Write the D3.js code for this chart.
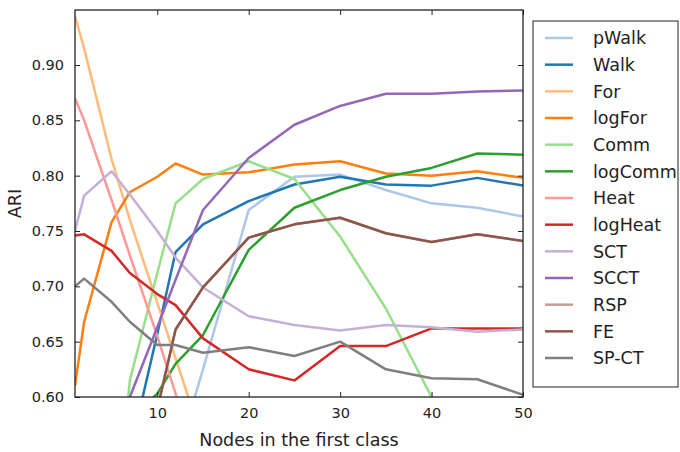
<!DOCTYPE html>
<html>
<head>
<meta charset="utf-8">
<script src="https://cdn.jsdelivr.net/npm/d3@7"></script>
<style>
  html, body { margin: 0; padding: 0; background: #fff; }
  svg { display: block; font-family: "DejaVu Sans", sans-serif; }
</style>
</head>
<body>
<svg id="chart" width="680" height="452"></svg>
<script>
// Number of nodes in the first class (x positions of every series)
const nodes = [1, 2, 5, 7, 10, 12, 15, 20, 25, 30, 35, 40, 45, 50];

// ARI per method, one value per entry of `nodes`
const pWalk   = [0.40, 0.42, 0.45, 0.47, 0.50, 0.542, 0.625, 0.769, 0.799, 0.801, 0.787, 0.775, 0.771, 0.763];
const walk    = [0.45, 0.47, 0.50, 0.55, 0.657, 0.731, 0.756, 0.777, 0.792, 0.799, 0.792, 0.791, 0.798, 0.791];
const forM    = [0.944, 0.915, 0.815, 0.760, 0.685, 0.635, 0.56, 0.50, 0.46, 0.44, 0.42, 0.41, 0.40, 0.39];
const logFor  = [0.610, 0.668, 0.758, 0.785, 0.799, 0.811, 0.801, 0.803, 0.810, 0.813, 0.802, 0.800, 0.804, 0.798];
const comm    = [0.35, 0.38, 0.45, 0.615, 0.712, 0.775, 0.797, 0.813, 0.797, 0.745, 0.680, 0.600, 0.52, 0.45];
const logComm = [0.45, 0.48, 0.53, 0.58, 0.603, 0.630, 0.656, 0.733, 0.771, 0.787, 0.799, 0.807, 0.820, 0.819];
const heat    = [0.870, 0.850, 0.778, 0.728, 0.655, 0.603, 0.53, 0.48, 0.45, 0.43, 0.42, 0.41, 0.40, 0.39];
const logHeat = [0.746, 0.747, 0.732, 0.712, 0.693, 0.683, 0.653, 0.625, 0.615, 0.646, 0.646, 0.662, 0.662, 0.662];
const sct     = [0.750, 0.782, 0.804, 0.783, 0.750, 0.726, 0.699, 0.673, 0.665, 0.660, 0.665, 0.663, 0.659, 0.661];
const scct    = [0.45, 0.48, 0.55, 0.600, 0.663, 0.706, 0.769, 0.816, 0.846, 0.863, 0.874, 0.874, 0.876, 0.877];
const rsp     = [0.45, 0.47, 0.50, 0.54, 0.589, 0.661, 0.699, 0.744, 0.756, 0.762, 0.748, 0.740, 0.747, 0.741];
const fe      = [0.45, 0.47, 0.50, 0.54, 0.589, 0.661, 0.699, 0.744, 0.756, 0.762, 0.748, 0.740, 0.747, 0.741];
const spct    = [0.700, 0.707, 0.686, 0.668, 0.647, 0.647, 0.640, 0.645, 0.637, 0.650, 0.625, 0.617, 0.616, 0.602];

const methodNames = ["pWalk", "Walk", "For", "logFor", "Comm", "logComm", "Heat", "logHeat", "SCT", "SCCT", "RSP", "FE", "SP-CT"];
const methodValues = [pWalk, walk, forM, logFor, comm, logComm, heat, logHeat, sct, scct, rsp, fe, spct];
const methodColors = ["#aec7e8", "#1f77b4", "#ffbb78", "#ff7f0e", "#98df8a", "#2ca02c",
                      "#ff9896", "#d62728", "#c5b0d5", "#9467bd", "#c49c94", "#8c564b", "#7f7f7f"];

const xTicks = [10, 20, 30, 40, 50];
const yTicks = [0.60, 0.65, 0.70, 0.75, 0.80, 0.85, 0.90];

const svg = d3.select("#chart");
const plot = { left: 75, top: 10, right: 523, bottom: 397 };

const x = d3.scaleLinear().domain([1, 50]).range([plot.left, plot.right]);
const y = d3.scaleLinear().domain([0.6, 0.9497]).range([plot.bottom, plot.top]);

svg.append("defs").append("clipPath").attr("id", "plot-clip")
  .append("rect")
  .attr("x", plot.left).attr("y", plot.top)
  .attr("width", plot.right - plot.left).attr("height", plot.bottom - plot.top);

// Series lines, drawn in legend order so later methods sit on top
const line = d3.line().x(d => x(d[0])).y(d => y(d[1]));
const lines = svg.append("g").attr("clip-path", "url(#plot-clip)");
methodValues.forEach((vals, i) => {
  lines.append("path")
    .datum(nodes.map((n, j) => [n, vals[j]]))
    .attr("d", line)
    .attr("fill", "none")
    .attr("stroke", methodColors[i])
    .attr("stroke-width", 2.5)
    .attr("stroke-linejoin", "round");
});

// Axes with inward ticks on all four sides
const tickLen = 5;
const axisStyle = g => {
  g.select(".domain").remove();
  g.selectAll(".tick line").attr("stroke", "#222").attr("stroke-width", 1);
  g.selectAll(".tick text").attr("fill", "#222").style("font-size", "14.5px")
    .style("font-family", "'DejaVu Sans', sans-serif");
};

svg.append("g").attr("transform", `translate(0,${plot.bottom})`)
  .call(d3.axisBottom(x).tickValues(xTicks).tickSize(-tickLen).tickPadding(11).tickFormat(d3.format("d")))
  .call(axisStyle);
svg.append("g").attr("transform", `translate(0,${plot.top})`)
  .call(d3.axisTop(x).tickValues(xTicks).tickSize(-tickLen).tickFormat(""))
  .call(axisStyle);
svg.append("g").attr("transform", `translate(${plot.left},0)`)
  .call(d3.axisLeft(y).tickValues(yTicks).tickSize(-tickLen).tickPadding(11).tickFormat(d3.format(".2f")))
  .call(axisStyle);
svg.append("g").attr("transform", `translate(${plot.right},0)`)
  .call(d3.axisRight(y).tickValues(yTicks).tickSize(-tickLen).tickFormat(""))
  .call(axisStyle);

svg.append("rect")
  .attr("x", plot.left).attr("y", plot.top)
  .attr("width", plot.right - plot.left).attr("height", plot.bottom - plot.top)
  .attr("fill", "none").attr("stroke", "#222").attr("stroke-width", 1.3);

// Axis titles
svg.append("text")
  .attr("x", (plot.left + plot.right) / 2).attr("y", 446)
  .attr("text-anchor", "middle").attr("fill", "#222")
  .style("font-size", "17.5px")
  .text("Nodes in the first class");
svg.append("text")
  .attr("transform", `translate(21,${(plot.top + plot.bottom) / 2}) rotate(-90)`)
  .attr("text-anchor", "middle").attr("fill", "#222")
  .style("font-size", "17.5px")
  .text("ARI");

// Legend
const legend = svg.append("g");
legend.append("rect")
  .attr("x", 533).attr("y", 21).attr("width", 145).attr("height", 366)
  .attr("fill", "#fff").attr("stroke", "#222").attr("stroke-width", 1);
const rowY = d3.scaleLinear().domain([0, methodNames.length - 1]).range([38, 358]);
methodNames.forEach((name, i) => {
  legend.append("line")
    .attr("x1", 545).attr("x2", 573)
    .attr("y1", rowY(i)).attr("y2", rowY(i))
    .attr("stroke", methodColors[i]).attr("stroke-width", 2.5);
  legend.append("text")
    .attr("x", 593).attr("y", rowY(i)).attr("dy", "0.36em")
    .attr("fill", "#222").style("font-size", "17.5px")
    .text(name);
});
</script>
</body>
</html>
